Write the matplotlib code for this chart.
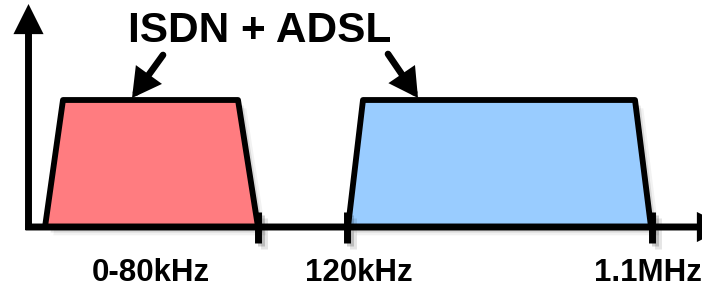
#Import Libraries
import matplotlib
matplotlib.use("Agg")
from matplotlib import pyplot as plt
from matplotlib.patches import Polygon
import matplotlib.patheffects as pe

# Schematic units: one unit is one pixel of the 702x290 picture, y grows down
baseline = 227           # level of the frequency axis
band_top = 100           # level of the flat top of each band
band_names = ["ISDN", "ADSL"]
band_bottom = [(45, 258), (348, 651)]   # (left, right) where each band meets the axis
band_upper = [(63, 238), (363, 635)]    # (left, right) of the flat top
band_colors = ["#FF7C80", "#99CCFF"]

tick_x = [258, 347, 652]
tick_labels = ["0-80kHz", "120kHz", "1.1MHz"]
label_x = [151, 359, 648]

title_text = "ISDN + ADSL"
title_pos = (260, 31)
# pointer arrows from the title down to each band: (tail, tip)
pointers = [((163, 55), (132, 98)), ((388, 54), (418, 98))]

shadow = [pe.SimplePatchShadow(offset=(2, -2), shadow_rgbFace="k", alpha=0.18),
          pe.SimplePatchShadow(offset=(4, -4), shadow_rgbFace="k", alpha=0.10),
          pe.SimplePatchShadow(offset=(6, -6), shadow_rgbFace="k", alpha=0.05),
          pe.Normal()]
line_shadow = [pe.SimpleLineShadow(offset=(2, -2), shadow_color="k", alpha=0.18),
               pe.SimpleLineShadow(offset=(4, -4), shadow_color="k", alpha=0.10),
               pe.Normal()]

fig = plt.figure(figsize=(7.02, 2.90), dpi=100)
ax = fig.add_axes([0, 0, 1, 1])
ax.set_xlim(0, 702)
ax.set_ylim(290, 0)
ax.axis("off")

#Draw the two frequency bands as trapezoids
for (bl, br), (tl, tr), col in zip(band_bottom, band_upper, band_colors):
    trap = Polygon([(bl, baseline), (tl, band_top), (tr, band_top), (br, baseline)],
                   closed=True, facecolor=col, edgecolor="black", lw=4.2,
                   joinstyle="round", zorder=2)
    trap.set_path_effects(shadow)
    ax.add_patch(trap)

#Axes with arrow heads
arrow_style = "-|>,head_length=0.4,head_width=0.2"
y_axis = ax.annotate("", xy=(28.5, 4), xytext=(28.5, baseline + 3),
                     arrowprops=dict(arrowstyle=arrow_style, mutation_scale=34, lw=5,
                                     color="black", shrinkA=0, shrinkB=0,
                                     joinstyle="miter", capstyle="butt"),
                     zorder=3)
x_axis = ax.annotate("", xy=(727, baseline), xytext=(25.5, baseline),
                     arrowprops=dict(arrowstyle=arrow_style, mutation_scale=34, lw=5,
                                     color="black", shrinkA=0, shrinkB=0,
                                     joinstyle="miter", capstyle="butt"),
                     zorder=3, annotation_clip=False)
x_axis.arrow_patch.set_path_effects(shadow)

#Tick marks and their labels
for x in tick_x:
    ax.plot([x, x], [212, 243], color="black", lw=5, solid_capstyle="butt",
            zorder=4, path_effects=line_shadow)
for x, lab in zip(label_x, tick_labels):
    ax.text(x, 273, lab, ha="center", va="center", fontsize=22.5,
            fontweight="bold", family="Liberation Sans")

#Title and pointer arrows
ax.text(title_pos[0], title_pos[1], title_text, ha="center", va="center",
        fontsize=30.5, fontweight="bold", family="Liberation Sans")
for tail, tip in pointers:
    ax.annotate("", xy=tip, xytext=tail,
                arrowprops=dict(arrowstyle="-|>,head_length=0.45,head_width=0.25",
                                mutation_scale=30, lw=4.8, color="black",
                                shrinkA=0, shrinkB=0, joinstyle="miter"),
                zorder=5)

plt.savefig("out.png", dpi=100)
